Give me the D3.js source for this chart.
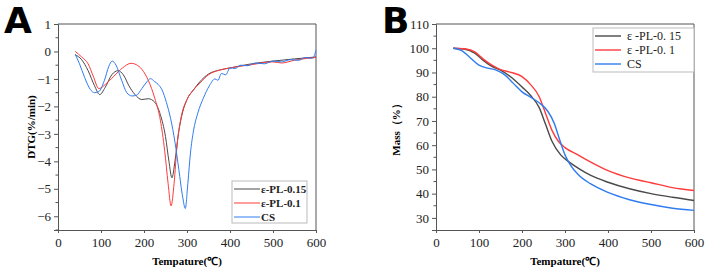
<!DOCTYPE html>
<html>
<head>
<meta charset="utf-8">
<script src="https://cdn.jsdelivr.net/npm/d3@7/dist/d3.min.js"></script>
<style>
  body { margin: 0; background: #fff; }
  svg { display: block; }
</style>
</head>
<body>
<svg id="chart" width="708" height="272"></svg>
<script>
// ---- panel A: DTG (%/min) vs temperature ----
var dtgPL015 = [[40,-0.12],[55,-0.3],[70,-0.7],[85,-1.25],[97,-1.57],[110,-1.3],[125,-0.85],[140,-0.7],[152,-0.85],[165,-1.25],[178,-1.55],[195,-1.75],[210,-1.72],[225,-1.85],[238,-2.3],[250,-3.1],[258,-4.0],[265,-4.6],[272,-4.0],[280,-3.0],[290,-2.2],[300,-1.75],[315,-1.4],[330,-1.1],[350,-0.82],[375,-0.68],[400,-0.6],[450,-0.45],[500,-0.35],[550,-0.27],[600,-0.2]];
var dtgPL01 = [[40,0],[55,-0.2],[70,-0.45],[82,-0.9],[95,-1.35],[110,-1.2],[130,-0.9],[150,-0.6],[170,-0.43],[182,-0.48],[195,-0.65],[210,-1.05],[225,-1.7],[238,-2.5],[248,-3.6],[256,-4.8],[263,-5.62],[270,-4.8],[277,-3.4],[285,-2.5],[300,-1.75],[315,-1.4],[330,-1.15],[350,-0.85],[375,-0.68],[400,-0.6],[450,-0.48],[500,-0.38],[520,-0.42],[550,-0.32],[580,-0.25],[600,-0.22]];
var dtgCS = [[40,-0.1],[50,-0.45],[62,-0.95],[75,-1.38],[85,-1.5],[95,-1.46],[108,-1.05],[118,-0.55],[126,-0.35],[135,-0.5],[148,-1.05],[160,-1.5],[172,-1.62],[182,-1.6],[195,-1.35],[207,-1.1],[215,-0.99],[225,-1.1],[233,-1.2],[242,-1.4],[252,-1.85],[262,-2.45],[272,-3.3],[281,-4.3],[290,-5.3],[296,-5.72],[302,-4.8],[308,-3.7],[315,-2.9],[325,-2.25],[338,-1.7],[352,-1.25],[365,-1.0],[372,-1.05],[380,-0.8],[390,-0.85],[400,-0.6],[412,-0.62],[425,-0.5],[440,-0.52],[460,-0.42],[480,-0.45],[500,-0.35],[520,-0.38],[540,-0.3],[560,-0.32],[575,-0.22],[590,-0.25],[596,-0.15],[600,0.05]];

// ---- panel B: mass (%) vs temperature ----
var tgPL015 = [[40,100],[70,99.5],[90,98],[110,95],[130,92.5],[150,91],[175,88],[200,84],[220,80.5],[240,75.5],[255,68.5],[270,61.5],[290,56],[310,53],[335,50],[360,47.5],[400,44.7],[450,42],[500,40],[550,38.5],[600,37.2]];
var tgPL01 = [[40,100],[70,99.7],[90,98.5],[110,95.5],[130,93],[150,91.2],[175,90],[200,88.3],[220,85],[240,80],[255,73],[270,66],[285,61.5],[300,59],[330,56],[360,53],[400,49.5],[450,46.5],[500,44.5],[550,42.5],[600,41.3]];
var tgCS = [[40,100],[60,99],[80,96],[100,93],[120,91.8],[140,91],[160,89],[180,85.5],[200,82],[220,79.8],[240,77.5],[260,74],[275,69],[288,62],[300,56],[312,52],[330,48],[360,44],[400,40.5],[450,37.5],[500,35.5],[550,34],[600,33.1]];

var seriesNamesA = ["ε-PL-0.15", "ε-PL-0.1", "CS"];
var seriesNamesB = ["ε -PL-0. 15", "ε -PL-0. 1", "CS"];
var colors = ["#4a4a4a", "#ff3b3b", "#2f7cf0"];
var xTicks = [0, 100, 200, 300, 400, 500, 600];
var yTicksA = [1, 0, -1, -2, -3, -4, -5, -6];
var yTicksB = [110, 100, 90, 80, 70, 60, 50, 40, 30];

var serif = "'Liberation Serif', 'Times New Roman', serif";
var svg = d3.select("#chart");

function drawPanel(opt) {
    var x = d3.scaleLinear().domain([0, 600]).range([opt.left, opt.right]);
    var y = d3.scaleLinear().domain(opt.ydom).range([230, 24]);
    var g = svg.append("g");

    // minor y ticks
    g.selectAll(".ym").data(opt.yMinor).enter().append("line")
        .attr("x1", opt.left - 2.5).attr("x2", opt.left)
        .attr("y1", y).attr("y2", y).attr("stroke", "#555");

    var xAxis = g.append("g").attr("transform", "translate(0,230)")
        .call(d3.axisBottom(x).tickValues(xTicks).tickSize(3).tickPadding(5));
    var yAxis = g.append("g").attr("transform", "translate(" + opt.left + ",0)")
        .call(d3.axisLeft(y).tickValues(opt.yTicks).tickSize(4).tickPadding(3));
    [xAxis, yAxis].forEach(function(a) {
        a.attr("font-family", null).attr("font-size", null);
        a.select(".domain").attr("stroke", "#555");
        a.selectAll(".tick line").attr("stroke", "#555");
        a.selectAll(".tick text")
            .style("font-family", serif).style("font-size", "13px").attr("fill", "#222");
    });

    // frame top/right
    g.append("path")
        .attr("d", "M" + opt.left + ",24H" + opt.right + "V230")
        .attr("fill", "none").attr("stroke", "#555");

    var line = d3.line().x(function(d) { return x(d[0]); }).y(function(d) { return y(d[1]); })
        .curve(d3.curveMonotoneX);
    g.selectAll(".s").data(opt.series).enter().append("path")
        .attr("d", line).attr("fill", "none")
        .attr("stroke", function(d, i) { return colors[i]; })
        .attr("stroke-width", opt.lw);

    // axis titles
    g.append("text").attr("x", (opt.left + opt.right) / 2).attr("y", 265)
        .attr("text-anchor", "middle")
        .style("font-family", serif).style("font-weight", "bold").style("font-size", "11px")
        .text("Tempature(℃)");
    g.append("text")
        .attr("transform", "translate(" + opt.ytitleX + ",127) rotate(-90)")
        .attr("text-anchor", "middle")
        .style("font-family", serif).style("font-weight", "bold").style("font-size", "11px")
        .text(opt.ytitle);

    // panel letter
    g.append("text").attr("x", opt.letterX).attr("y", 33)
        .style("font-family", "'DejaVu Sans', sans-serif").style("font-weight", "bold")
        .style("font-size", "36px").text(opt.letter);

    // legend
    var L = opt.legend;
    g.append("rect").attr("x", L.x).attr("y", L.y).attr("width", L.w).attr("height", L.h)
        .attr("fill", "#fff").attr("stroke", "#bbb");
    opt.names.forEach(function(n, i) {
        var yy = L.y + 8 + i * 14;
        g.append("line").attr("x1", L.x + 2).attr("x2", L.x + 28)
            .attr("y1", yy).attr("y2", yy).attr("stroke", colors[i]).attr("stroke-width", opt.lw);
        g.append("text").attr("x", L.x + L.tx).attr("y", yy + 4)
            .style("font-family", serif).style("font-weight", L.bold ? "bold" : "normal")
            .style("font-size", L.size).attr("fill", "#222").text(n);
    });
}

drawPanel({
    left: 58, right: 316, ydom: [-6.5, 1], yTicks: yTicksA, lw: 1,
    yMinor: d3.range(-6.5, 1, 1), series: [dtgPL015, dtgPL01, dtgCS],
    ytitle: "DTG(%/min)", ytitleX: 35, letter: "A", letterX: 4,
    names: seriesNamesA,
    legend: {x: 232, y: 181, w: 75, h: 42, tx: 29, bold: true, size: "11px"}
});
drawPanel({
    left: 436, right: 694, ydom: [25, 110], yTicks: yTicksB, lw: 1.4,
    yMinor: d3.range(35, 110, 10), series: [tgPL015, tgPL01, tgCS],
    ytitle: "Mass（%）", ytitleX: 400, letter: "B", letterX: 382,
    names: seriesNamesB,
    legend: {x: 593, y: 28, w: 101, h: 44, tx: 34, bold: false, size: "12px"}
});
</script>
</body>
</html>
